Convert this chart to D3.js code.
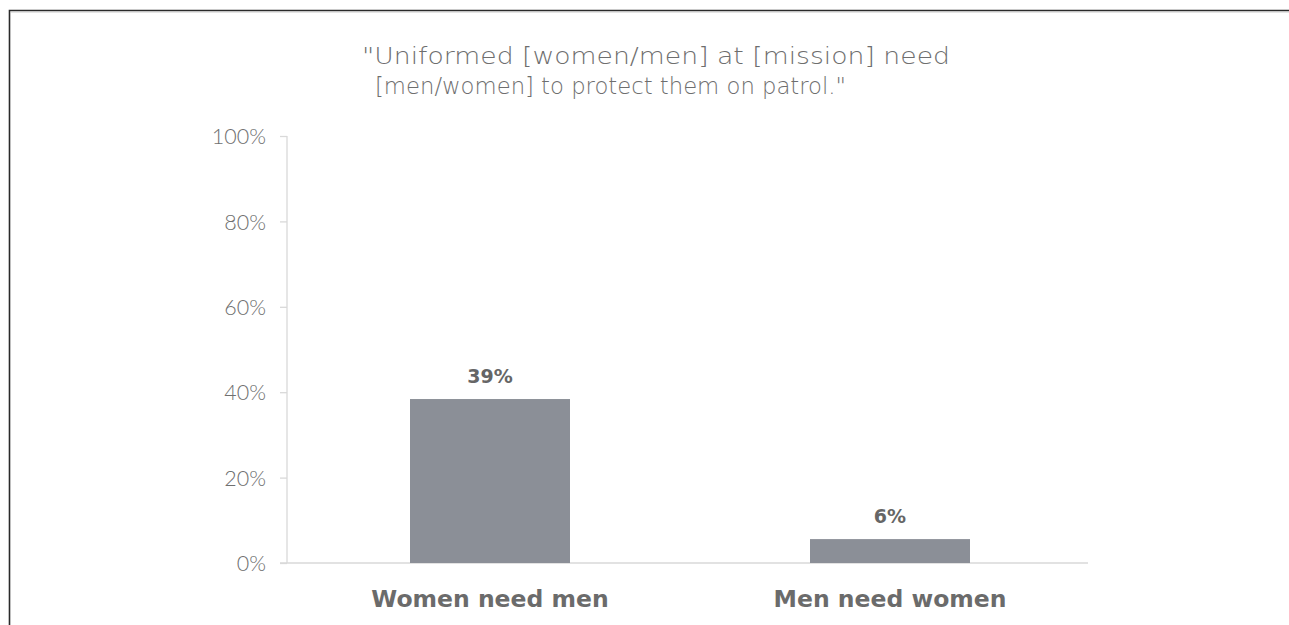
<!DOCTYPE html>
<html><head><meta charset="utf-8">
<script src="https://cdn.jsdelivr.net/npm/d3@7"></script>
<style>body{margin:0;background:#fff;}svg{display:block;font-family:"DejaVu Sans",sans-serif;}</style>
</head><body>
<svg id="c" width="1289" height="625"></svg>
<script>
const categories = ["Women need men", "Men need women"];
const values = [38.4, 5.6];
const valueLabels = ["39%", "6%"];
const yTicks = [0, 20, 40, 60, 80, 100];
const titleLines = ["\"Uniformed [women/men] at [mission] need", "[men/women] to protect them on patrol.\""];

const svg = d3.select("#c");
svg.append("path").attr("d","M9.5,625 V10.5 H1289").attr("fill","none").attr("stroke","#2a2a2a").attr("stroke-width",1.6);
svg.append("path").attr("d","M10.5,12 H1289").attr("fill","none").attr("stroke","#bbb").attr("stroke-width",0.8);

const y = d3.scaleLinear().domain([0,100]).range([563,136]);
const x = d3.scaleBand().domain(categories).range([290,1090]).paddingInner(0.6).paddingOuter(0.3);

const yAxis = d3.axisLeft(y).tickValues(yTicks).tickFormat(d=>d+"%").tickSize(7).tickPadding(14);
const gy = svg.append("g").attr("transform","translate(287,0)").call(yAxis);
gy.select(".domain").attr("stroke","#d9d9d9").attr("stroke-width",1.3).attr("d","M0,136 V563");
gy.selectAll(".tick line").attr("stroke","#d9d9d9").attr("stroke-width",1.3);
gy.selectAll(".tick text").attr("fill","#6f6f6f").attr("font-size",21.5).attr("font-weight",300).attr("font-family","Lato").attr("dy","0.36em");

const xAxis = d3.axisBottom(x).tickSize(0).tickPadding(27);
const gx = svg.append("g").attr("transform","translate(0,563)").call(xAxis);
gx.select(".domain").attr("stroke","#d9d9d9").attr("stroke-width",1.3).attr("d","M280,0 H1088");
gx.selectAll(".tick text").attr("fill","#6b6b6b").attr("font-size",23.5).attr("font-weight",700).attr("font-family","DejaVu Sans").attr("dy","0.71em");

svg.selectAll("rect.bar").data(values).join("rect").attr("class","bar")
  .attr("x",(d,i)=>x(categories[i])).attr("width",x.bandwidth())
  .attr("y",d=>y(d)).attr("height",d=>y(0)-y(d)).attr("fill","#8b8f97");

svg.selectAll("text.vl").data(values).join("text").attr("class","vl")
  .attr("x",(d,i)=>x(categories[i])+x.bandwidth()/2).attr("y",d=>y(d)-16)
  .attr("text-anchor","middle").attr("fill","#666").attr("font-size",19).attr("font-weight",700)
  .text((d,i)=>valueLabels[i]);

const tc = [656, 610.5], ty = [64, 94], tw = [588, 471];
svg.selectAll("text.title").data(titleLines).join("text").attr("class","title")
  .attr("x",(d,i)=>tc[i]).attr("y",(d,i)=>ty[i]).attr("text-anchor","middle")
  .attr("fill","#6e6e6e").attr("font-size",23).attr("font-weight",200)
  .attr("textLength",(d,i)=>tw[i]).attr("lengthAdjust","spacingAndGlyphs").text(d=>d);
</script>
</body></html>
